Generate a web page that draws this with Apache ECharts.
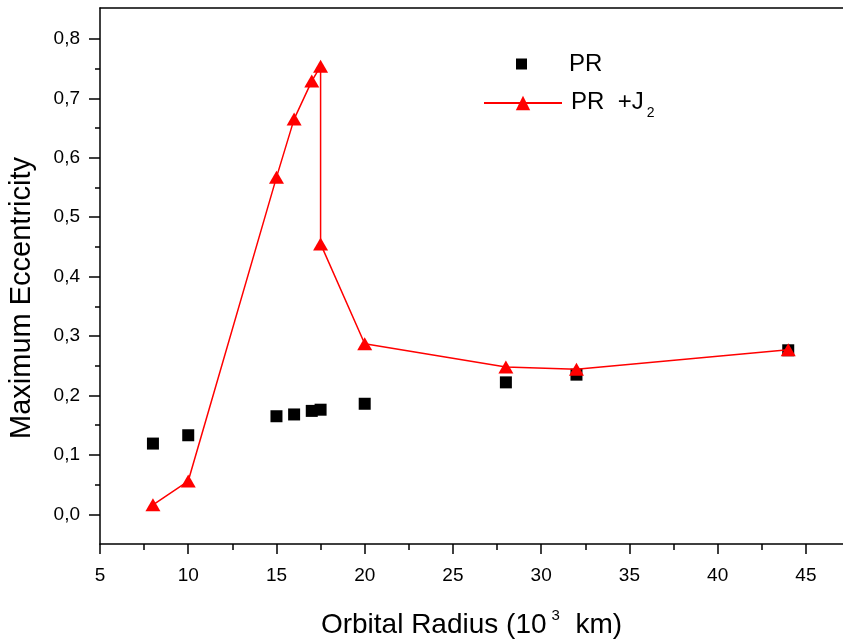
<!DOCTYPE html>
<html>
<head>
<meta charset="utf-8">
<script src="https://cdn.jsdelivr.net/npm/echarts@6/dist/echarts.min.js"></script>
<style>html,body{margin:0;padding:0;background:#fff;overflow:hidden;}#c{width:843px;height:642px;}</style>
</head>
<body>
<div id="c"></div>
<script>
// Data
const prX = [8, 10, 15, 16, 17, 17.5, 20, 28, 32, 44];
const prY = [0.119, 0.133, 0.165, 0.168, 0.174, 0.176, 0.186, 0.222, 0.235, 0.276];
const j2X = [8, 10, 15, 16, 17, 17.5, 17.5, 20, 28, 32, 44];
const j2Y = [0.016, 0.056, 0.567, 0.665, 0.729, 0.754, 0.455, 0.287, 0.248, 0.244, 0.277];
const yMajorTicks = [0, 0.1, 0.2, 0.3, 0.4, 0.5, 0.6, 0.7, 0.8];
const yMinorTicks = [0.05, 0.15, 0.25, 0.35, 0.45, 0.55, 0.65, 0.75];
const seriesNames = ['PR', 'PR +J2'];

const FONT = 'Arial, "Liberation Sans", sans-serif';
const Y_MIN = -0.05, Y_MAX = 0.852, X_MIN = 5, X_MAX = 47.5;

const chart = echarts.init(document.getElementById('c'));
const axisLine = { show: true, onZero: false, lineStyle: { color: '#000', width: 1.5 } };

chart.setOption({
  backgroundColor: '#fff',
  animation: false,
  grid: { left: 100, right: -7, top: 8, bottom: 98, containLabel: false, outerBoundsMode: 'none' },
  legend: [
    {
      data: [{ name: seriesNames[0], icon: 'rect' }], orient: 'vertical', left: 511, top: 46,
      itemWidth: 11, itemHeight: 11,
      textStyle: { fontFamily: FONT, fontSize: 24, color: '#000', lineHeight: 26, padding: [0, 0, 0, 37] }
    },
    {
      data: [seriesNames[1]], orient: 'vertical', left: 478, top: 85,
      itemWidth: 78, itemHeight: 18,
      formatter: () => '{a|PR  +J}{b|2}',
      textStyle: {
        fontFamily: FONT, fontSize: 24, color: '#000', padding: [0, 0, 0, 4],
        rich: {
          a: { fontFamily: FONT, fontSize: 24, lineHeight: 26, verticalAlign: 'top', color: '#000' },
          b: { fontFamily: FONT, fontSize: 14, lineHeight: 14, verticalAlign: 'top', padding: [16, 0, 0, 3], color: '#000' }
        }
      }
    }
  ],
  xAxis: [
    {
      type: 'value', position: 'bottom', min: X_MIN, max: X_MAX, interval: 5,
      axisLine: axisLine,
      axisTick: { show: true, length: 10, lineStyle: { color: '#000', width: 1.5 } },
      minorTick: { show: true, splitNumber: 2, length: 6, lineStyle: { color: '#000', width: 1.5 } },
      splitLine: { show: false },
      axisLabel: { margin: 22, fontFamily: FONT, fontSize: 19, color: '#000',
        showMinLabel: true, showMaxLabel: false },
      name: '{a|Orbital Radius (10}{s|3}{a|  km)}',
      nameLocation: 'middle', nameGap: 64,
      nameTextStyle: {
        fontFamily: FONT, fontSize: 28, color: '#000', padding: [0, 7, 0, 0],
        rich: {
          a: { fontFamily: FONT, fontSize: 28, lineHeight: 32, verticalAlign: 'top', padding: [3, 0, 0, 0], color: '#000' },
          s: { fontFamily: FONT, fontSize: 15, lineHeight: 15, verticalAlign: 'top', padding: [0, 0, 0, 5], color: '#000' }
        }
      }
    },
    {
      type: 'value', position: 'top', min: X_MIN, max: X_MAX, interval: 5,
      axisLine: axisLine, axisTick: { show: false }, axisLabel: { show: false },
      splitLine: { show: false }
    }
  ],
  yAxis: [
    {
      type: 'value', position: 'left', min: Y_MIN, max: Y_MAX,
      axisLine: axisLine,
      axisTick: { show: true, length: 11, customValues: yMajorTicks, lineStyle: { color: '#000', width: 1.5 } },
      splitLine: { show: false },
      axisLabel: { margin: 20, fontFamily: FONT, fontSize: 19, color: '#000',
        customValues: yMajorTicks,
        formatter: v => v.toFixed(1).replace('.', ',') },
      name: 'Maximum Eccentricity', nameLocation: 'middle', nameGap: 64,
      nameTextStyle: { fontFamily: FONT, fontSize: 29, color: '#000', padding: [0, 44, 0, 0] }
    },
    {
      type: 'value', position: 'left', min: Y_MIN, max: Y_MAX,
      axisLine: { show: false, onZero: false },
      axisTick: { show: true, length: 5, customValues: yMinorTicks, lineStyle: { color: '#000', width: 1.5 } },
      axisLabel: { show: false },
      splitLine: { show: false }
    }
  ],
  series: [
    {
      name: seriesNames[0], type: 'scatter', xAxisIndex: 0, yAxisIndex: 0,
      symbol: 'rect', symbolSize: 12,
      itemStyle: { color: '#000', opacity: 1 },
      data: prX.map((x, i) => [x, prY[i]]),
      z: 2
    },
    {
      name: seriesNames[1], type: 'line', xAxisIndex: 0, yAxisIndex: 0,
      symbol: 'triangle', symbolSize: [15, 13], showAllSymbol: true,
      itemStyle: { color: '#ff0000', opacity: 1 },
      lineStyle: { color: '#ff0000', width: 1.5 },
      data: j2X.map((x, i) => [x, j2Y[i]]),
      z: 3
    }
  ]
});
</script>
</body>
</html>
